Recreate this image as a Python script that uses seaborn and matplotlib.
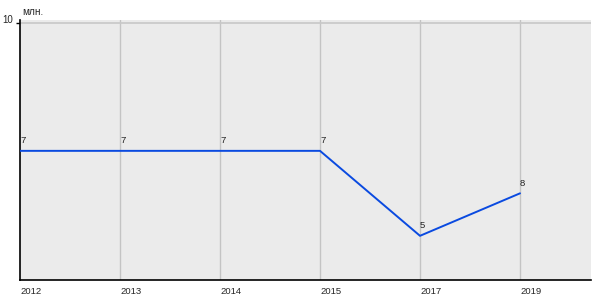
import matplotlib
matplotlib.use("Agg")
import matplotlib.pyplot as plt
import seaborn as sns
import pandas as pd

years = ["2012", "2013", "2014", "2015", "2017", "2019"]
values = [7, 7, 7, 7, 5, 6]
labels = ["7", "7", "7", "7", "5", "8"]
unit = "млн."

sns.set_style("white")
plt.rcParams["font.family"] = ["Liberation Sans", "DejaVu Sans"]

df = pd.DataFrame({"x": range(len(years)), "v": values})

fig = plt.figure(figsize=(6, 3), dpi=100)
ax = fig.add_axes([20/600, 20/300, 571/600, 260/300])
ax.set_facecolor("#ebebeb")

for i in range(1, len(years)):
    ax.axvline(i, color="#c4c4c4", lw=1, zorder=1)
ax.axhline(10, color="#c8c8c8", lw=1.2, zorder=1)

sns.lineplot(data=df, x="x", y="v", ax=ax, color="#0a4ae0", lw=1.4, zorder=3)

for i, (v, t) in enumerate(zip(values, labels)):
    ax.text(i, v + 0.13, t, fontsize=6.8, ha="left", va="bottom", color="#222222")

ax.set_xlim(0, 5.71)
ax.set_ylim(3.96, 10.08)
ax.set_xticks(range(len(years)))
ax.set_xticklabels(years, fontsize=6.8, ha="left")
ax.set_yticks([10])
ax.set_yticklabels(["10"], fontsize=7, va="baseline")
ax.tick_params(axis="x", length=0, pad=5)
ax.tick_params(axis="y", length=3, width=1, color="black", pad=2, left=True)
ax.set_xlabel("")
ax.set_ylabel("")
for s in ["top", "right"]:
    ax.spines[s].set_visible(False)
for s in ["left", "bottom"]:
    ax.spines[s].set_color("black")
    ax.spines[s].set_linewidth(1.2)

fig.text(22/600, 1 - 12/300, unit, fontsize=7.2, ha="left", va="center")

fig.savefig("out.png", dpi=100)
